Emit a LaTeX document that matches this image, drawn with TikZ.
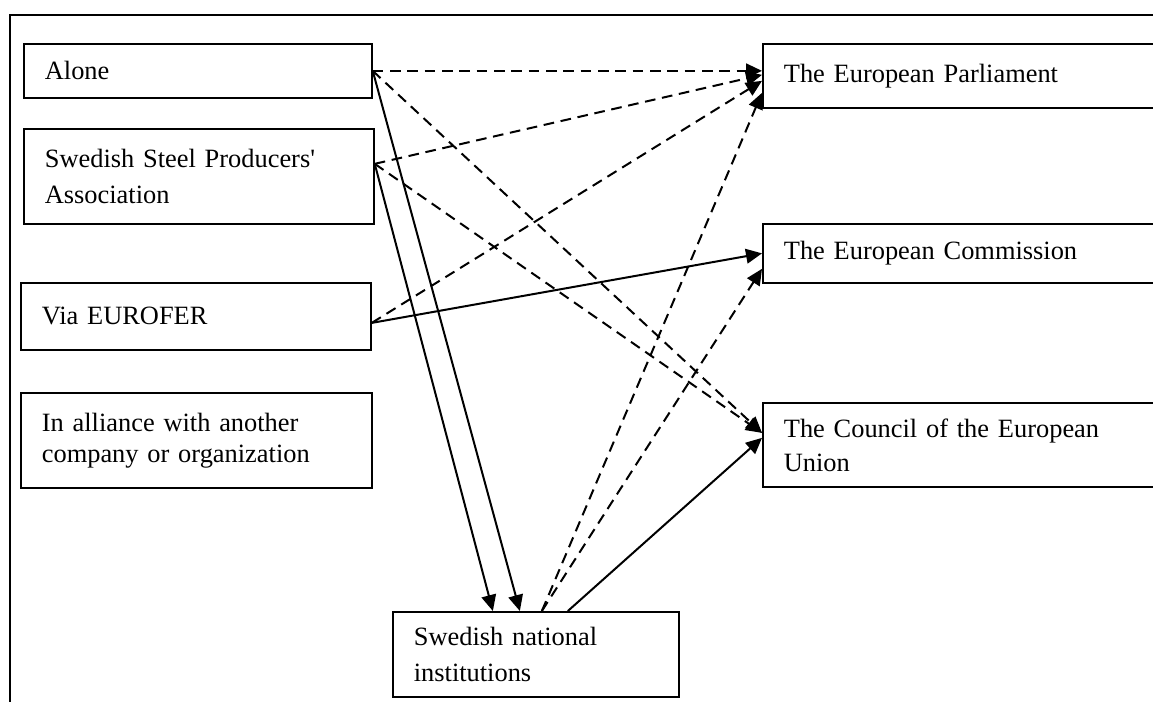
\documentclass[tikz,border=0pt]{standalone}
\usepackage{fontspec}
\setmainfont{Liberation Serif}
\usetikzlibrary{arrows.meta}
\begin{document}
\begin{tikzpicture}[x=0.75pt,y=-0.75pt,
  box/.style={draw, line width=1.3pt, anchor=north west, inner xsep=15.75pt, inner ysep=0pt, align=left, font=\fontsize{19.8pt}{27.75pt}\selectfont},
  con/.style={line width=1.5pt, -{Triangle[length=12pt,width=11pt]}},
  dcon/.style={con, dash pattern=on 8pt off 5pt}]
\useasboundingbox (0,0) rectangle (1153,702);
\clip (0,0) rectangle (1153,702);
\draw[line width=1.8pt] (10,710) -- (10,15) -- (1170,15);
% left column
\node[box, minimum width=261pt, minimum height=40.5pt, text width=229.5pt] (alone) at (23,43) {Alone};
\node[box, minimum width=262.5pt, minimum height=71.25pt, text width=231pt, font=\fontsize{19.8pt}{27pt}\selectfont] (sspa) at (23,128) {Swedish Steel Producers\textquotesingle\\Association};
\node[box, minimum width=262.5pt, minimum height=50.25pt, text width=231pt] (euro) at (20,282) {Via EUROFER};
\node[box, minimum width=263.25pt, minimum height=71.25pt, text width=231.75pt, font=\fontsize{19.8pt}{23pt}\selectfont] (alli) at (20,392) {In alliance with another\\company or organization};
% bottom
\node[box, minimum width=214.5pt, minimum height=63.75pt, text width=183pt, font=\fontsize{19.8pt}{27pt}\selectfont] (sni) at (392,611) {Swedish national\\institutions};
% right column
\node[box, minimum width=315pt, minimum height=48pt, text width=283.5pt] (ep) at (762,43) {The European Parliament};
\node[box, minimum width=315pt, minimum height=44.25pt, text width=283.5pt] (ec) at (762,223) {The European Commission};
\node[box, minimum width=315pt, minimum height=63pt, text width=283.5pt, font=\fontsize{19.8pt}{25.5pt}\selectfont] (cou) at (762,402) {The Council of the European\\Union};
% connectors
\draw[dcon] (alone.east) -- ([yshift=3.75pt]ep.west);
\draw[dcon] (alone.east) -- ([yshift=9pt]cou.west);
\draw[con] (alone.east) -- ([xshift=-12pt]sni.north);
\draw[dcon] ([yshift=9.4pt]sspa.east) -- ([yshift=0.75pt]ep.west);
\draw[dcon] ([yshift=9.4pt]sspa.east) -- ([yshift=9pt]cou.west);
\draw[con] ([yshift=9.4pt]sspa.east) -- ([xshift=-32.25pt]sni.north);
\draw[dcon] ([yshift=-4.9pt]euro.east) -- ([yshift=-3.75pt]ep.west);
\draw[con] ([yshift=-4.9pt]euro.east) -- (ec.west);
\draw[dcon] ([xshift=4.5pt]sni.north) -- ([yshift=-12.75pt]ep.west);
\draw[dcon] ([xshift=4.5pt]sni.north) -- ([yshift=-11.6pt]ec.west);
\draw[con] ([xshift=24pt]sni.north) -- ([yshift=5.25pt]cou.west);
\end{tikzpicture}
\end{document}
